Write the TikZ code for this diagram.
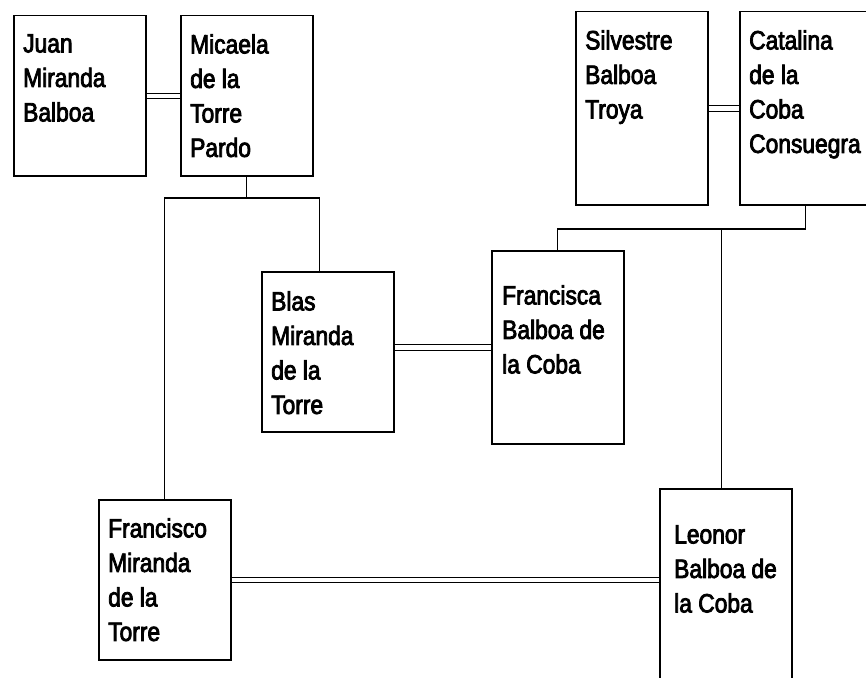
\documentclass[tikz,border=0pt]{standalone}
\usepackage{fontspec}
\setmainfont{Liberation Sans}[FakeStretch=0.86, FakeBold=3]
\usetikzlibrary{positioning}

\tikzset{
  person/.style={draw, line width=1.5pt, rectangle, minimum width=132pt, anchor=north west, inner sep=0pt},
  fullname/.style={anchor=north west, align=left, inner sep=0pt, font={\fontsize{26.5}{34.5}\selectfont}},
  marriage/.style={double, double distance=4.5pt, line width=1pt},
  descent/.style={line width=1.4pt},
}

\begin{document}
\begin{tikzpicture}[x=1pt, y=-1pt]
\useasboundingbox (0,0) rectangle (866,677);
\clip (0,0) rectangle (866,677);
% boxes
\node[person, minimum height=160pt] (juan) at (13,15) {};
\node[person, minimum height=160pt] (micaela) at (180,15) {};
\node[person, minimum height=193pt] (silvestre) at (575,11) {};
\node[person, minimum height=193pt, minimum width=160pt] (catalina) at (739,11) {};
\node[person, minimum height=160pt] (blas) at (261,271) {};
\node[person, minimum height=193pt] (francisca) at (491,250) {};
\node[person, minimum height=160pt] (francisco) at (98,499) {};
\node[person, minimum height=220pt] (leonor) at (659,488) {};
% names
\node[fullname] (juan-t) at ([shift={(10,19)}]juan.north west) {Juan\\Miranda\\Balboa};
\node[fullname] (micaela-t) at ([shift={(10,19)}]micaela.north west) {Micaela\\de la\\Torre\\Pardo};
\node[fullname] (silvestre-t) at ([shift={(10,19)}]silvestre.north west) {Silvestre\\Balboa\\Troya};
\node[fullname] (catalina-t) at ([shift={(10,19)}]catalina.north west) {Catalina\\de la\\Coba\\Consuegra};
\node[fullname] (blas-t) at ([shift={(10,20)}]blas.north west) {Blas\\Miranda\\de la\\Torre};
\node[fullname] (francisca-t) at ([shift={(11,35)}]francisca.north west) {Francisca\\Balboa de\\la Coba};
\node[fullname] (francisco-t) at ([shift={(10,19)}]francisco.north west) {Francisco\\Miranda\\de la\\Torre};
\node[fullname] (leonor-t) at ([shift={(15,37)}]leonor.north west) {Leonor\\Balboa de\\la Coba};
% marriages
\draw[marriage] (juan) -- (micaela);
\draw[marriage] (silvestre) -- (catalina.west |- silvestre.east);
\draw[marriage] (blas.east |- francisca.west) -- (francisca.west);
\draw[marriage] (francisco.east) -- (francisco.east -| leonor.west);
% children
\draw[descent] (micaela.south) -- ++(0,21.5) coordinate (mbar);
\draw[descent] (francisco.north) |- (mbar) -| ([xshift=-8pt]blas.north);
\draw[descent] ([xshift=66.5pt]catalina.south west) -- ++(0,23.5) coordinate (cbar);
\draw[descent] (francisca.north) |- (cbar);
\draw[descent] ([xshift=-4pt]leonor.north) -- ([xshift=-4pt]leonor.north |- cbar);
\end{tikzpicture}
\end{document}
